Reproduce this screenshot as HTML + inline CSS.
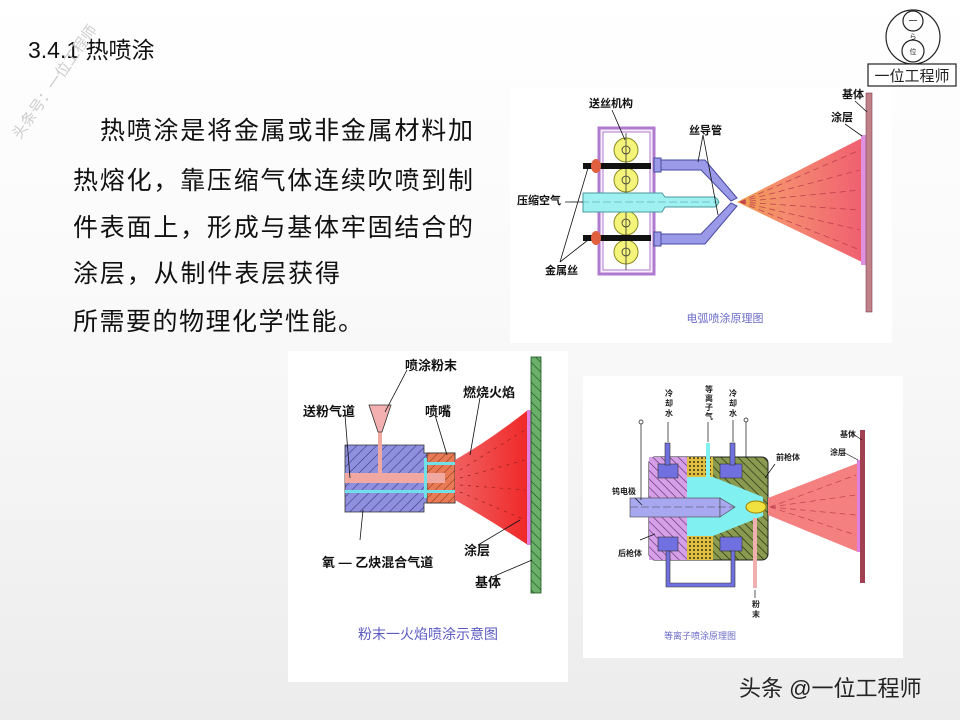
<!DOCTYPE html>
<html><head><meta charset="utf-8"><style>
html,body{margin:0;padding:0;width:960px;height:720px;overflow:hidden}
svg{display:block}
</style></head><body>
<svg width="960" height="720" viewBox="0 0 960 720" xmlns="http://www.w3.org/2000/svg" font-family="'Liberation Sans','Noto Sans CJK SC',sans-serif">
<defs>
<linearGradient id="bg" x1="0" y1="0" x2="0" y2="1">
<stop offset="0" stop-color="#ffffff"/><stop offset="0.5" stop-color="#f8f8f8"/><stop offset="1" stop-color="#ececec"/></linearGradient>
<pattern id="hp" width="7" height="7" patternUnits="userSpaceOnUse" patternTransform="rotate(45)">
<rect width="7" height="7" fill="#8f8fe0"/><line x1="0" y1="0" x2="0" y2="7" stroke="#3a3a80" stroke-width="1.2"/></pattern>
<pattern id="hr" width="6" height="6" patternUnits="userSpaceOnUse" patternTransform="rotate(45)">
<rect width="6" height="6" fill="#e87a55"/><line x1="0" y1="0" x2="0" y2="6" stroke="#7a2a10" stroke-width="1"/></pattern>
<pattern id="hg" width="7" height="7" patternUnits="userSpaceOnUse" patternTransform="rotate(-45)">
<rect width="7" height="7" fill="#6ab06a"/><line x1="0" y1="0" x2="0" y2="7" stroke="#1d4d1d" stroke-width="1.2"/></pattern>
<pattern id="hm" width="6" height="6" patternUnits="userSpaceOnUse" patternTransform="rotate(-45)">
<rect width="6" height="6" fill="#d6a0e8"/><line x1="0" y1="0" x2="0" y2="6" stroke="#5a2a6a" stroke-width="1.2"/></pattern>
<pattern id="ho" width="6" height="6" patternUnits="userSpaceOnUse" patternTransform="rotate(-45)">
<rect width="6" height="6" fill="#8a9a50"/><line x1="0" y1="0" x2="0" y2="6" stroke="#2a3010" stroke-width="1.4"/></pattern>
<pattern id="hy" width="4" height="4" patternUnits="userSpaceOnUse">
<rect width="4" height="4" fill="#e0c040"/><circle cx="2" cy="2" r="1" fill="#403010"/></pattern>
<linearGradient id="spr" x1="0" y1="0" x2="1" y2="0">
<stop offset="0" stop-color="#f0a050"/><stop offset="0.4" stop-color="#f48a70"/><stop offset="1" stop-color="#f06070"/></linearGradient>
<linearGradient id="fl" x1="0" y1="0" x2="1" y2="0">
<stop offset="0" stop-color="#f06060"/><stop offset="1" stop-color="#f02828"/></linearGradient>
</defs>
<rect width="960" height="720" fill="url(#bg)"/>

<text x="28" y="58" font-size="23" fill="#111">3.4.1 热喷涂</text>
<text x="20" y="140" font-size="15" fill="#ccc" transform="rotate(-55 20 140)">头条号：一位工程师</text>

<g font-size="25" fill="#111">
<text x="100" y="139" textLength="373" lengthAdjust="spacing">热喷涂是将金属或非金属材料加</text>
<text x="73" y="189" textLength="400" lengthAdjust="spacing">热熔化，靠压缩气体连续吹喷到制</text>
<text x="73" y="236" textLength="400" lengthAdjust="spacing">件表面上，形成与基体牢固结合的</text>
<text x="73" y="282" textLength="267" lengthAdjust="spacing">涂层，从制件表层获得</text>
<text x="73" y="330" textLength="290" lengthAdjust="spacing">所需要的物理化学性能。</text>
</g>

<g fill="none" stroke="#222" stroke-width="1.2">
<circle cx="913" cy="37" r="27"/><circle cx="913" cy="21" r="10"/><circle cx="913" cy="51" r="11"/>
<rect x="868" y="64" width="88" height="22" fill="#fff"/>
</g>
<text x="913" y="24" font-size="9" text-anchor="middle" fill="#222">一</text>
<text x="913" y="39" font-size="7" text-anchor="middle" fill="#222">ら</text>
<text x="913" y="54" font-size="7" text-anchor="middle" fill="#222">位</text>
<text x="912" y="81" font-size="15" text-anchor="middle" fill="#222">一位工程师</text>

<rect x="510" y="88" width="382" height="255" fill="#fff"/>
<g>
<rect x="599" y="128" width="55" height="146" fill="#f6eefa" stroke="#b07ad0" stroke-width="3"/>
<rect x="603" y="132" width="47" height="138" fill="#fff" stroke="#b07ad0" stroke-width="1"/>
<g fill="#f4f47a" stroke="#8a8a20" stroke-width="1">
<circle cx="626" cy="150" r="12"/><circle cx="626" cy="180" r="12"/><circle cx="626" cy="223" r="12"/><circle cx="626" cy="252" r="12"/>
</g>
<g fill="none" stroke="#333" stroke-width="0.8">
<circle cx="626" cy="150" r="4"/><circle cx="626" cy="180" r="4"/><circle cx="626" cy="223" r="4"/><circle cx="626" cy="252" r="4"/>
<line x1="626" y1="133" x2="626" y2="270"/>
</g>
<rect x="583" y="163" width="68" height="6" fill="#111"/>
<rect x="583" y="235" width="68" height="6" fill="#111"/>
<ellipse cx="596" cy="166" rx="5" ry="7" fill="#e06040"/>
<ellipse cx="596" cy="238" rx="5" ry="7" fill="#e06040"/>
<path d="M583 193 H662 L665 197 H715 Q722 202 715 207 H665 L662 212 H583 Z" fill="#9ff0f0" stroke="#4a9aa0" stroke-width="1"/>
<line x1="570" y1="202" x2="720" y2="202" stroke="#4a9aa0" stroke-width="0.6" stroke-dasharray="8 3"/>
<path d="M654 160 H705 L737 198 L731 201 L701 170 H654 Z" fill="#9a9ae8" stroke="#4a4aa0" stroke-width="1"/>
<path d="M654 244 H705 L737 206 L731 203 L701 234 H654 Z" fill="#9a9ae8" stroke="#4a4aa0" stroke-width="1"/>
<rect x="654" y="158" width="7" height="14" fill="#9a9ae8" stroke="#4a4aa0"/>
<rect x="654" y="232" width="7" height="14" fill="#9a9ae8" stroke="#4a4aa0"/>
<polygon points="737,202 862,138 862,262" fill="url(#spr)"/>
<g stroke="#c04050" stroke-width="0.8" stroke-dasharray="6 4">
<line x1="740" y1="202" x2="860" y2="150"/><line x1="740" y1="202" x2="860" y2="170"/><line x1="740" y1="202" x2="860" y2="190"/>
<line x1="740" y1="202" x2="860" y2="210"/><line x1="740" y1="202" x2="860" y2="230"/><line x1="740" y1="202" x2="860" y2="250"/>
</g>
<rect x="861" y="135" width="5" height="130" fill="#e090e0"/>
<rect x="866" y="93" width="6" height="219" fill="#c08088" stroke="#804050" stroke-width="0.6"/>
<g stroke="#111" stroke-width="0.8" fill="none">
<line x1="612" y1="110" x2="625" y2="140"/><line x1="703" y1="135" x2="698" y2="162"/><line x1="703" y1="135" x2="718" y2="215"/>
<line x1="855" y1="101" x2="867" y2="112"/><line x1="845" y1="124" x2="862" y2="136"/>
<line x1="565" y1="202" x2="583" y2="202"/>
<line x1="560" y1="262" x2="588" y2="168"/><line x1="560" y1="262" x2="588" y2="240"/>
</g>
<g font-size="11" font-weight="bold" fill="#111">
<text x="589" y="107">送丝机构</text><text x="689" y="134">丝导管</text>
<text x="842" y="98">基体</text><text x="831" y="121">涂层</text>
<text x="517" y="204">压缩空气</text><text x="545" y="274">金属丝</text>
</g>
<text x="725" y="322" font-size="11" fill="#6b6bc8" text-anchor="middle">电弧喷涂原理图</text>
</g>

<rect x="288" y="351" width="280" height="331" fill="#fff"/>
<g>
<path d="M345 445 H424 V453 H455 V503 H424 V512 H345 Z" fill="url(#hp)" stroke="#333" stroke-width="0.8"/>
<rect x="427" y="453" width="28" height="50" fill="url(#hr)" stroke="#333" stroke-width="0.8"/>
<rect x="345" y="473" width="100" height="10" fill="#f0a8a0"/>
<rect x="345" y="490" width="110" height="3" fill="#70e0e8"/>
<rect x="427" y="462" width="28" height="3" fill="#70e0e8"/>
<rect x="424" y="458" width="3" height="40" fill="#70e0e8"/>
<rect x="378" y="432" width="4" height="45" fill="#f0a8a0"/>
<polygon points="369,405 391,405 382,432 378,432" fill="#f4b0b0" stroke="#333" stroke-width="0.8"/>
<path d="M455 460 Q490 440 528 410 V545 Q490 520 455 500 Z" fill="url(#fl)"/>
<g stroke="#902020" stroke-width="0.7" stroke-dasharray="3 5">
<line x1="460" y1="470" x2="525" y2="430"/><line x1="460" y1="478" x2="525" y2="460"/><line x1="460" y1="485" x2="525" y2="490"/><line x1="460" y1="492" x2="525" y2="520"/>
</g>
<rect x="527" y="410" width="4" height="135" fill="#e080e0"/>
<rect x="531" y="357" width="10" height="236" fill="url(#hg)" stroke="#1d4d1d" stroke-width="0.8"/>
<g stroke="#111" stroke-width="0.8" fill="none">
<line x1="407" y1="370" x2="385" y2="412"/><line x1="345" y1="415" x2="350" y2="478"/><line x1="435" y1="415" x2="447" y2="455"/>
<line x1="480" y1="398" x2="470" y2="455"/><line x1="360" y1="540" x2="363" y2="510"/><line x1="478" y1="545" x2="520" y2="520"/><line x1="490" y1="578" x2="532" y2="560"/>
</g>
<g font-size="13" font-weight="bold" fill="#111">
<text x="405" y="370">喷涂粉末</text><text x="303" y="416">送粉气道</text><text x="425" y="416">喷嘴</text>
<text x="463" y="397">燃烧火焰</text><text x="322" y="567">氧 — 乙炔混合气道</text>
<text x="464" y="555">涂层</text><text x="475" y="587">基体</text>
</g>
<text x="428" y="639" font-size="14" fill="#5a5ac0" text-anchor="middle">粉末一火焰喷涂示意图</text>
</g>

<rect x="583" y="376" width="320" height="282" fill="#fff"/>
<g>
<rect x="649" y="457" width="119" height="103" rx="6" fill="url(#ho)" stroke="#222" stroke-width="1"/>
<rect x="649" y="457" width="38" height="103" fill="url(#hm)"/>
<rect x="687" y="457" width="26" height="103" fill="url(#hy)"/>
<path d="M687 477 H713 L763 497 V516 L713 536 H687 Z" fill="#80f0f0"/>
<rect x="630" y="498" width="90" height="19" fill="#a8a8f0" stroke="#444" stroke-width="0.6"/>
<polygon points="720,498 735,507 720,517" fill="#a8a8f0" stroke="#444" stroke-width="0.6"/>
<line x1="630" y1="507" x2="735" y2="507" stroke="#444" stroke-width="0.6" stroke-dasharray="8 3"/>
<ellipse cx="756" cy="507" rx="10" ry="6" fill="#f0e040" stroke="#a08000"/>
<g fill="#7070e0" stroke="#333" stroke-width="0.6">
<rect x="658" y="464" width="20" height="14"/><rect x="720" y="464" width="22" height="14"/>
<rect x="658" y="537" width="20" height="14"/><rect x="720" y="537" width="22" height="14"/>
<rect x="665" y="443" width="5" height="22"/><rect x="730" y="443" width="5" height="22"/>
<path d="M666 551 V587 H735 V551 H731 V583 H670 V551 Z"/>
</g>
<rect x="706" y="443" width="4" height="35" fill="#80f0f0"/>
<rect x="753" y="518" width="4" height="70" fill="#f0b0b0"/>
<polygon points="768,498 858,463 858,552 768,515" fill="#f48080"/>
<g stroke="#c04050" stroke-width="0.7" stroke-dasharray="6 4">
<line x1="770" y1="507" x2="856" y2="475"/><line x1="770" y1="507" x2="856" y2="495"/><line x1="770" y1="507" x2="856" y2="515"/><line x1="770" y1="507" x2="856" y2="535"/>
</g>
<rect x="857" y="460" width="3" height="92" fill="#e080e0"/>
<rect x="860" y="430" width="5" height="153" fill="#a04050"/>
<g stroke="#111" stroke-width="0.7" fill="none">
<line x1="641" y1="424" x2="641" y2="500"/><circle cx="641" cy="422" r="2"/>
<line x1="746" y1="422" x2="746" y2="458"/><circle cx="746" cy="420" r="2"/>
<line x1="668" y1="422" x2="668" y2="442"/><line x1="708" y1="422" x2="708" y2="442"/><line x1="733" y1="420" x2="733" y2="442"/>
<line x1="755" y1="590" x2="755" y2="598"/>
<line x1="775" y1="464" x2="765" y2="478"/><line x1="850" y1="432" x2="862" y2="440"/><line x1="843" y1="452" x2="858" y2="460"/>
<line x1="640" y1="540" x2="655" y2="534"/><line x1="635" y1="498" x2="642" y2="505"/>
</g>
<g font-size="8" font-weight="bold" fill="#222">
<text x="665" y="396">冷</text><text x="665" y="406">却</text><text x="665" y="416">水</text>
<text x="705" y="392">等</text><text x="705" y="401">离</text><text x="705" y="410">子</text><text x="705" y="419">气</text>
<text x="729" y="396">冷</text><text x="729" y="406">却</text><text x="729" y="416">水</text>
<text x="776" y="460">前枪体</text><text x="840" y="437">基体</text><text x="830" y="455">涂层</text>
<text x="612" y="494">钨电极</text><text x="618" y="556">后枪体</text>
<text x="752" y="607">粉</text><text x="752" y="617">末</text>
</g>
<text x="700" y="639" font-size="9" fill="#6b6bc8" text-anchor="middle">等离子喷涂原理图</text>
</g>

<text x="739" y="696" font-size="22" fill="#222">头条 @一位工程师</text>
</svg>
</body></html>
